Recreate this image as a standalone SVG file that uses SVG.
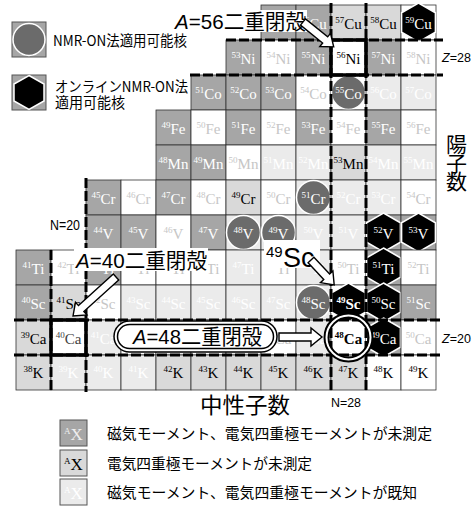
<svg xmlns="http://www.w3.org/2000/svg" xmlns:xlink="http://www.w3.org/1999/xlink" width="472" height="506" viewBox="0 0 472 506">
<style>
rect.c{stroke:#333;stroke-width:.8}
.D{fill:#a6a6a6}.L{fill:#d9d9d9}.V{fill:#ebebeb}.W{fill:#fff}
.ct{font-family:"Liberation Serif",serif;font-size:15px;text-anchor:middle}
.m{font-size:9px}
.tw{fill:#fff}.tb{fill:#000}.tl{fill:#c6c6c6}
.bold{font-weight:bold}
.magic line{stroke:#000;stroke-width:3;stroke-dasharray:10 3}
.lab{font-family:"Liberation Sans","Noto Sans CJK JP",sans-serif;font-size:21px;fill:#000}
.jp{font-family:"Noto Sans CJK JP",sans-serif;fill:#000}
.sm{font-family:"Liberation Sans",sans-serif;fill:#000}
.arr path{fill:#fff;stroke:#000;stroke-width:1.4;stroke-linejoin:miter}
</style>
<defs>
<polygon id="hex" points="0,-19.5 16.9,-9.75 16.9,9.75 0,19.5 -16.9,9.75 -16.9,-9.75" fill="#000" stroke="#fff" stroke-width="1.5"/>
<circle id="dot" r="17" fill="#6b6b6b" stroke="#fff" stroke-width="1.5"/>
</defs>
<rect width="472" height="506" fill="#fff"/>

<!-- Cu row -->
<g id="n55Cu"><rect class="c D" x="261" y="5" width="35" height="35"/><text class="ct tw" x="278.5" y="28.5"><tspan class="m" dy="-6">55</tspan><tspan dy="6">Cu</tspan></text></g>
<g id="n56Cu"><rect class="c D" x="296" y="5" width="35" height="35"/><text class="ct tw" x="313.5" y="28.5"><tspan class="m" dy="-6">56</tspan><tspan dy="6">Cu</tspan></text></g>
<g id="n57Cu"><rect class="c L" x="331" y="5" width="35" height="35"/><text class="ct tb" x="348.5" y="28.5"><tspan class="m" dy="-6">57</tspan><tspan dy="6">Cu</tspan></text></g>
<g id="n58Cu"><rect class="c L" x="366" y="5" width="35" height="35"/><text class="ct tb" x="383.5" y="28.5"><tspan class="m" dy="-6">58</tspan><tspan dy="6">Cu</tspan></text></g>
<g id="n59Cu"><rect class="c W" x="401" y="5" width="35" height="35"/><use href="#hex" x="418.5" y="22.5"/><text class="ct tw" x="418.5" y="28.5"><tspan class="m" dy="-6">59</tspan><tspan dy="6">Cu</tspan></text></g>

<!-- Ni row -->
<g id="n53Ni"><rect class="c D" x="226" y="40" width="35" height="35"/><text class="ct tw" x="243.5" y="63.5"><tspan class="m" dy="-6">53</tspan><tspan dy="6">Ni</tspan></text></g>
<g id="n54Ni"><rect class="c W" x="261" y="40" width="35" height="35"/><text class="ct tl" x="278.5" y="63.5"><tspan class="m" dy="-6">54</tspan><tspan dy="6">Ni</tspan></text></g>
<g id="n55Ni"><rect class="c D" x="296" y="40" width="35" height="35"/><text class="ct tw" x="313.5" y="63.5"><tspan class="m" dy="-6">55</tspan><tspan dy="6">Ni</tspan></text></g>
<g id="n56Ni"><rect class="c W" x="331" y="40" width="35" height="35"/><text class="ct tb" x="348.5" y="63.5"><tspan class="m" dy="-6">56</tspan><tspan dy="6">Ni</tspan></text></g>
<g id="n57Ni"><rect class="c D" x="366" y="40" width="35" height="35"/><text class="ct tw" x="383.5" y="63.5"><tspan class="m" dy="-6">57</tspan><tspan dy="6">Ni</tspan></text></g>
<g id="n58Ni"><rect class="c W" x="401" y="40" width="35" height="35"/><text class="ct tl" x="418.5" y="63.5"><tspan class="m" dy="-6">58</tspan><tspan dy="6">Ni</tspan></text></g>

<!-- Co row -->
<g id="n51Co"><rect class="c D" x="191" y="75" width="35" height="35"/><text class="ct tw" x="208.5" y="98.5"><tspan class="m" dy="-6">51</tspan><tspan dy="6">Co</tspan></text></g>
<g id="n52Co"><rect class="c D" x="226" y="75" width="35" height="35"/><text class="ct tw" x="243.5" y="98.5"><tspan class="m" dy="-6">52</tspan><tspan dy="6">Co</tspan></text></g>
<g id="n53Co"><rect class="c D" x="261" y="75" width="35" height="35"/><text class="ct tw" x="278.5" y="98.5"><tspan class="m" dy="-6">53</tspan><tspan dy="6">Co</tspan></text></g>
<g id="n54Co"><rect class="c W" x="296" y="75" width="35" height="35"/><text class="ct tl" x="313.5" y="98.5"><tspan class="m" dy="-6">54</tspan><tspan dy="6">Co</tspan></text></g>
<g id="n55Co"><rect class="c W" x="331" y="75" width="35" height="35"/><use href="#dot" x="348.5" y="92.5"/><text class="ct tw" x="348.5" y="98.5"><tspan class="m" dy="-6">55</tspan><tspan dy="6">Co</tspan></text></g>
<g id="n56Co"><rect class="c V" x="366" y="75" width="35" height="35"/><text class="ct tw" x="383.5" y="98.5"><tspan class="m" dy="-6">56</tspan><tspan dy="6">Co</tspan></text></g>
<g id="n57Co"><rect class="c V" x="401" y="75" width="35" height="35"/><text class="ct tw" x="418.5" y="98.5"><tspan class="m" dy="-6">57</tspan><tspan dy="6">Co</tspan></text></g>

<!-- Fe row -->
<g id="n49Fe"><rect class="c D" x="156" y="110" width="35" height="35"/><text class="ct tw" x="173.5" y="133.5"><tspan class="m" dy="-6">49</tspan><tspan dy="6">Fe</tspan></text></g>
<g id="n50Fe"><rect class="c W" x="191" y="110" width="35" height="35"/><text class="ct tl" x="208.5" y="133.5"><tspan class="m" dy="-6">50</tspan><tspan dy="6">Fe</tspan></text></g>
<g id="n51Fe"><rect class="c D" x="226" y="110" width="35" height="35"/><text class="ct tw" x="243.5" y="133.5"><tspan class="m" dy="-6">51</tspan><tspan dy="6">Fe</tspan></text></g>
<g id="n52Fe"><rect class="c W" x="261" y="110" width="35" height="35"/><text class="ct tl" x="278.5" y="133.5"><tspan class="m" dy="-6">52</tspan><tspan dy="6">Fe</tspan></text></g>
<g id="n53Fe"><rect class="c D" x="296" y="110" width="35" height="35"/><text class="ct tw" x="313.5" y="133.5"><tspan class="m" dy="-6">53</tspan><tspan dy="6">Fe</tspan></text></g>
<g id="n54Fe"><rect class="c W" x="331" y="110" width="35" height="35"/><text class="ct tl" x="348.5" y="133.5"><tspan class="m" dy="-6">54</tspan><tspan dy="6">Fe</tspan></text></g>
<g id="n55Fe"><rect class="c D" x="366" y="110" width="35" height="35"/><text class="ct tw" x="383.5" y="133.5"><tspan class="m" dy="-6">55</tspan><tspan dy="6">Fe</tspan></text></g>
<g id="n56Fe"><rect class="c W" x="401" y="110" width="35" height="35"/><text class="ct tl" x="418.5" y="133.5"><tspan class="m" dy="-6">56</tspan><tspan dy="6">Fe</tspan></text></g>

<!-- Mn row -->
<g id="n48Mn"><rect class="c D" x="156" y="145" width="35" height="35"/><text class="ct tw" x="173.5" y="168.5"><tspan class="m" dy="-6">48</tspan><tspan dy="6">Mn</tspan></text></g>
<g id="n49Mn"><rect class="c D" x="191" y="145" width="35" height="35"/><text class="ct tw" x="208.5" y="168.5"><tspan class="m" dy="-6">49</tspan><tspan dy="6">Mn</tspan></text></g>
<g id="n50Mn"><rect class="c W" x="226" y="145" width="35" height="35"/><text class="ct tl" x="243.5" y="168.5"><tspan class="m" dy="-6">50</tspan><tspan dy="6">Mn</tspan></text></g>
<g id="n51Mn"><rect class="c V" x="261" y="145" width="35" height="35"/><text class="ct tw" x="278.5" y="168.5"><tspan class="m" dy="-6">51</tspan><tspan dy="6">Mn</tspan></text></g>
<g id="n52Mn"><rect class="c V" x="296" y="145" width="35" height="35"/><text class="ct tw" x="313.5" y="168.5"><tspan class="m" dy="-6">52</tspan><tspan dy="6">Mn</tspan></text></g>
<g id="n53Mn"><rect class="c L" x="331" y="145" width="35" height="35"/><text class="ct tb" x="348.5" y="168.5"><tspan class="m" dy="-6">53</tspan><tspan dy="6">Mn</tspan></text></g>
<g id="n54Mn"><rect class="c V" x="366" y="145" width="35" height="35"/><text class="ct tw" x="383.5" y="168.5"><tspan class="m" dy="-6">54</tspan><tspan dy="6">Mn</tspan></text></g>
<g id="n55Mn"><rect class="c V" x="401" y="145" width="35" height="35"/><text class="ct tw" x="418.5" y="168.5"><tspan class="m" dy="-6">55</tspan><tspan dy="6">Mn</tspan></text></g>

<!-- Cr row -->
<g id="n45Cr"><rect class="c D" x="86" y="180" width="35" height="35"/><text class="ct tw" x="103.5" y="203.5"><tspan class="m" dy="-6">45</tspan><tspan dy="6">Cr</tspan></text></g>
<g id="n46Cr"><rect class="c W" x="121" y="180" width="35" height="35"/><text class="ct tl" x="138.5" y="203.5"><tspan class="m" dy="-6">46</tspan><tspan dy="6">Cr</tspan></text></g>
<g id="n47Cr"><rect class="c D" x="156" y="180" width="35" height="35"/><text class="ct tw" x="173.5" y="203.5"><tspan class="m" dy="-6">47</tspan><tspan dy="6">Cr</tspan></text></g>
<g id="n48Cr"><rect class="c W" x="191" y="180" width="35" height="35"/><text class="ct tl" x="208.5" y="203.5"><tspan class="m" dy="-6">48</tspan><tspan dy="6">Cr</tspan></text></g>
<g id="n49Cr"><rect class="c L" x="226" y="180" width="35" height="35"/><text class="ct tb" x="243.5" y="203.5"><tspan class="m" dy="-6">49</tspan><tspan dy="6">Cr</tspan></text></g>
<g id="n50Cr"><rect class="c W" x="261" y="180" width="35" height="35"/><text class="ct tl" x="278.5" y="203.5"><tspan class="m" dy="-6">50</tspan><tspan dy="6">Cr</tspan></text></g>
<g id="n51Cr"><rect class="c V" x="296" y="180" width="35" height="35"/><use href="#dot" x="313.5" y="197.5"/><text class="ct tw" x="313.5" y="203.5"><tspan class="m" dy="-6">51</tspan><tspan dy="6">Cr</tspan></text></g>
<g id="n52Cr"><rect class="c V" x="331" y="180" width="35" height="35"/><text class="ct tw" x="348.5" y="203.5"><tspan class="m" dy="-6">52</tspan><tspan dy="6">Cr</tspan></text></g>
<g id="n53Cr"><rect class="c V" x="366" y="180" width="35" height="35"/><text class="ct tw" x="383.5" y="203.5"><tspan class="m" dy="-6">53</tspan><tspan dy="6">Cr</tspan></text></g>
<g id="n54Cr"><rect class="c W" x="401" y="180" width="35" height="35"/><text class="ct tl" x="418.5" y="203.5"><tspan class="m" dy="-6">54</tspan><tspan dy="6">Cr</tspan></text></g>

<!-- V row -->
<g id="n44V"><rect class="c D" x="86" y="215" width="35" height="35"/><text class="ct tw" x="103.5" y="238.5"><tspan class="m" dy="-6">44</tspan><tspan dy="6">V</tspan></text></g>
<g id="n45V"><rect class="c D" x="121" y="215" width="35" height="35"/><text class="ct tw" x="138.5" y="238.5"><tspan class="m" dy="-6">45</tspan><tspan dy="6">V</tspan></text></g>
<g id="n46V"><rect class="c W" x="156" y="215" width="35" height="35"/><text class="ct tl" x="173.5" y="238.5"><tspan class="m" dy="-6">46</tspan><tspan dy="6">V</tspan></text></g>
<g id="n47V"><rect class="c D" x="191" y="215" width="35" height="35"/><text class="ct tw" x="208.5" y="238.5"><tspan class="m" dy="-6">47</tspan><tspan dy="6">V</tspan></text></g>
<g id="n48V"><rect class="c V" x="226" y="215" width="35" height="35"/><use href="#dot" x="243.5" y="232.5"/><text class="ct tw" x="243.5" y="238.5"><tspan class="m" dy="-6">48</tspan><tspan dy="6">V</tspan></text></g>
<g id="n49V"><rect class="c V" x="261" y="215" width="35" height="35"/><use href="#dot" x="278.5" y="232.5"/><text class="ct tw" x="278.5" y="238.5"><tspan class="m" dy="-6">49</tspan><tspan dy="6">V</tspan></text></g>
<g id="n50V"><rect class="c V" x="296" y="215" width="35" height="35"/><text class="ct tw" x="313.5" y="238.5"><tspan class="m" dy="-6">50</tspan><tspan dy="6">V</tspan></text></g>
<g id="n51V"><rect class="c V" x="331" y="215" width="35" height="35"/><text class="ct tw" x="348.5" y="238.5"><tspan class="m" dy="-6">51</tspan><tspan dy="6">V</tspan></text></g>
<g id="n52V"><rect class="c D" x="366" y="215" width="35" height="35"/><use href="#hex" x="383.5" y="232.5"/><text class="ct tw" x="383.5" y="238.5"><tspan class="m" dy="-6">52</tspan><tspan dy="6">V</tspan></text></g>
<g id="n53V"><rect class="c D" x="401" y="215" width="35" height="35"/><use href="#hex" x="418.5" y="232.5"/><text class="ct tw" x="418.5" y="238.5"><tspan class="m" dy="-6">53</tspan><tspan dy="6">V</tspan></text></g>

<!-- Ti row -->
<g id="n41Ti"><rect class="c D" x="16" y="250" width="35" height="35"/><text class="ct tw" x="33.5" y="273.5"><tspan class="m" dy="-6">41</tspan><tspan dy="6">Ti</tspan></text></g>
<g id="n42Ti"><rect class="c W" x="51" y="250" width="35" height="35"/><text class="ct tl" x="68.5" y="273.5"><tspan class="m" dy="-6">42</tspan><tspan dy="6">Ti</tspan></text></g>
<g id="n43Ti"><rect class="c D" x="86" y="250" width="35" height="35"/><text class="ct tw" x="103.5" y="273.5"><tspan class="m" dy="-6">43</tspan><tspan dy="6">Ti</tspan></text></g>
<g id="n44Ti"><rect class="c W" x="121" y="250" width="35" height="35"/><text class="ct tl" x="138.5" y="273.5"><tspan class="m" dy="-6">44</tspan><tspan dy="6">Ti</tspan></text></g>
<g id="n45Ti"><rect class="c W" x="156" y="250" width="35" height="35"/><text class="ct tl" x="173.5" y="273.5"><tspan class="m" dy="-6">45</tspan><tspan dy="6">Ti</tspan></text></g>
<g id="n46Ti"><rect class="c W" x="191" y="250" width="35" height="35"/><text class="ct tl" x="208.5" y="273.5"><tspan class="m" dy="-6">46</tspan><tspan dy="6">Ti</tspan></text></g>
<g id="n47Ti"><rect class="c V" x="226" y="250" width="35" height="35"/><text class="ct tw" x="243.5" y="273.5"><tspan class="m" dy="-6">47</tspan><tspan dy="6">Ti</tspan></text></g>
<g id="n48Ti"><rect class="c W" x="261" y="250" width="35" height="35"/><text class="ct tl" x="278.5" y="273.5"><tspan class="m" dy="-6">48</tspan><tspan dy="6">Ti</tspan></text></g>
<g id="n49Ti"><rect class="c V" x="296" y="250" width="35" height="35"/><text class="ct tw" x="313.5" y="273.5"><tspan class="m" dy="-6">49</tspan><tspan dy="6">Ti</tspan></text></g>
<g id="n50Ti"><rect class="c W" x="331" y="250" width="35" height="35"/><text class="ct tl" x="348.5" y="273.5"><tspan class="m" dy="-6">50</tspan><tspan dy="6">Ti</tspan></text></g>
<g id="n51Ti"><rect class="c D" x="366" y="250" width="35" height="35"/><use href="#hex" x="383.5" y="267.5"/><text class="ct tw" x="383.5" y="273.5"><tspan class="m" dy="-6">51</tspan><tspan dy="6">Ti</tspan></text></g>
<g id="n52Ti"><rect class="c W" x="401" y="250" width="35" height="35"/><text class="ct tl" x="418.5" y="273.5"><tspan class="m" dy="-6">52</tspan><tspan dy="6">Ti</tspan></text></g>

<!-- Sc row -->
<g id="n40Sc"><rect class="c D" x="16" y="285" width="35" height="35"/><text class="ct tw" x="33.5" y="308.5"><tspan class="m" dy="-6">40</tspan><tspan dy="6">Sc</tspan></text></g>
<g id="n41Sc"><rect class="c L" x="51" y="285" width="35" height="35"/><text class="ct tb" x="68.5" y="308.5"><tspan class="m" dy="-6">41</tspan><tspan dy="6">Sc</tspan></text></g>
<g id="n42Sc"><rect class="c W" x="86" y="285" width="35" height="35"/><text class="ct tl" x="103.5" y="308.5"><tspan class="m" dy="-6">42</tspan><tspan dy="6">Sc</tspan></text></g>
<g id="n43Sc"><rect class="c V" x="121" y="285" width="35" height="35"/><text class="ct tw" x="138.5" y="308.5"><tspan class="m" dy="-6">43</tspan><tspan dy="6">Sc</tspan></text></g>
<g id="n44Sc"><rect class="c V" x="156" y="285" width="35" height="35"/><text class="ct tw" x="173.5" y="308.5"><tspan class="m" dy="-6">44</tspan><tspan dy="6">Sc</tspan></text></g>
<g id="n45Sc"><rect class="c V" x="191" y="285" width="35" height="35"/><text class="ct tw" x="208.5" y="308.5"><tspan class="m" dy="-6">45</tspan><tspan dy="6">Sc</tspan></text></g>
<g id="n46Sc"><rect class="c V" x="226" y="285" width="35" height="35"/><text class="ct tw" x="243.5" y="308.5"><tspan class="m" dy="-6">46</tspan><tspan dy="6">Sc</tspan></text></g>
<g id="n47Sc"><rect class="c V" x="261" y="285" width="35" height="35"/><text class="ct tw" x="278.5" y="308.5"><tspan class="m" dy="-6">47</tspan><tspan dy="6">Sc</tspan></text></g>
<g id="n48Sc"><rect class="c V" x="296" y="285" width="35" height="35"/><use href="#dot" x="313.5" y="302.5"/><text class="ct tw" x="313.5" y="308.5"><tspan class="m" dy="-6">48</tspan><tspan dy="6">Sc</tspan></text></g>
<g id="n49Sc"><rect class="c W" x="331" y="285" width="35" height="35"/><use href="#hex" x="348.5" y="302.5"/><text class="ct tw bold" x="348.5" y="308.5"><tspan class="m" dy="-6">49</tspan><tspan dy="6">Sc</tspan></text></g>
<g id="n50Sc"><rect class="c D" x="366" y="285" width="35" height="35"/><use href="#hex" x="383.5" y="302.5"/><text class="ct tw" x="383.5" y="308.5"><tspan class="m" dy="-6">50</tspan><tspan dy="6">Sc</tspan></text></g>
<g id="n51Sc"><rect class="c D" x="401" y="285" width="35" height="35"/><text class="ct tw" x="418.5" y="308.5"><tspan class="m" dy="-6">51</tspan><tspan dy="6">Sc</tspan></text></g>

<!-- Ca row -->
<g id="n39Ca"><rect class="c L" x="16" y="320" width="35" height="35"/><text class="ct tb" x="33.5" y="343.5"><tspan class="m" dy="-6">39</tspan><tspan dy="6">Ca</tspan></text></g>
<g id="n40Ca"><rect class="c W" x="51" y="320" width="35" height="35"/><text class="ct" fill="#444" x="68.5" y="343.5"><tspan class="m" dy="-6">40</tspan><tspan dy="6">Ca</tspan></text></g>
<g id="n41Ca"><rect class="c V" x="86" y="320" width="35" height="35"/><text class="ct tw" x="103.5" y="343.5"><tspan class="m" dy="-6">41</tspan><tspan dy="6">Ca</tspan></text></g>
<g id="n42Ca"><rect class="c W" x="121" y="320" width="35" height="35"/><text class="ct tl" x="138.5" y="343.5"><tspan class="m" dy="-6">42</tspan><tspan dy="6">Ca</tspan></text></g>
<g id="n43Ca"><rect class="c V" x="156" y="320" width="35" height="35"/><text class="ct tw" x="173.5" y="343.5"><tspan class="m" dy="-6">43</tspan><tspan dy="6">Ca</tspan></text></g>
<g id="n44Ca"><rect class="c W" x="191" y="320" width="35" height="35"/><text class="ct tl" x="208.5" y="343.5"><tspan class="m" dy="-6">44</tspan><tspan dy="6">Ca</tspan></text></g>
<g id="n45Ca"><rect class="c V" x="226" y="320" width="35" height="35"/><text class="ct tw" x="243.5" y="343.5"><tspan class="m" dy="-6">45</tspan><tspan dy="6">Ca</tspan></text></g>
<g id="n46Ca"><rect class="c W" x="261" y="320" width="35" height="35"/><text class="ct tl" x="278.5" y="343.5"><tspan class="m" dy="-6">46</tspan><tspan dy="6">Ca</tspan></text></g>
<g id="n47Ca"><rect class="c V" x="296" y="320" width="35" height="35"/><text class="ct tw" x="313.5" y="343.5"><tspan class="m" dy="-6">47</tspan><tspan dy="6">Ca</tspan></text></g>
<g id="n48Ca"><rect class="c W" x="331" y="320" width="35" height="35"/><text class="ct tb bold" x="348.5" y="343.5"><tspan class="m" dy="-6">48</tspan><tspan dy="6">Ca</tspan></text></g>
<g id="n49Ca"><rect class="c D" x="366" y="320" width="35" height="35"/><use href="#hex" x="383.5" y="337.5"/><text class="ct tw" x="383.5" y="343.5"><tspan class="m" dy="-6">49</tspan><tspan dy="6">Ca</tspan></text></g>
<g id="n50Ca"><rect class="c W" x="401" y="320" width="35" height="35"/><text class="ct tl" x="418.5" y="343.5"><tspan class="m" dy="-6">50</tspan><tspan dy="6">Ca</tspan></text></g>

<!-- K row -->
<g id="n38K"><rect class="c L" x="16" y="355" width="35" height="35"/><text class="ct tb" x="33.5" y="378"><tspan class="m" dy="-6">38</tspan><tspan dy="6">K</tspan></text></g>
<g id="n39K"><rect class="c V" x="51" y="355" width="35" height="35"/><text class="ct tw" x="68.5" y="378"><tspan class="m" dy="-6">39</tspan><tspan dy="6">K</tspan></text></g>
<g id="n40K"><rect class="c V" x="86" y="355" width="35" height="35"/><text class="ct tw" x="103.5" y="378"><tspan class="m" dy="-6">40</tspan><tspan dy="6">K</tspan></text></g>
<g id="n41K"><rect class="c V" x="121" y="355" width="35" height="35"/><text class="ct tw" x="138.5" y="378"><tspan class="m" dy="-6">41</tspan><tspan dy="6">K</tspan></text></g>
<g id="n42K"><rect class="c L" x="156" y="355" width="35" height="35"/><text class="ct tb" x="173.5" y="378"><tspan class="m" dy="-6">42</tspan><tspan dy="6">K</tspan></text></g>
<g id="n43K"><rect class="c L" x="191" y="355" width="35" height="35"/><text class="ct tb" x="208.5" y="378"><tspan class="m" dy="-6">43</tspan><tspan dy="6">K</tspan></text></g>
<g id="n44K"><rect class="c L" x="226" y="355" width="35" height="35"/><text class="ct tb" x="243.5" y="378"><tspan class="m" dy="-6">44</tspan><tspan dy="6">K</tspan></text></g>
<g id="n45K"><rect class="c L" x="261" y="355" width="35" height="35"/><text class="ct tb" x="278.5" y="378"><tspan class="m" dy="-6">45</tspan><tspan dy="6">K</tspan></text></g>
<g id="n46K"><rect class="c L" x="296" y="355" width="35" height="35"/><text class="ct tb" x="313.5" y="378"><tspan class="m" dy="-6">46</tspan><tspan dy="6">K</tspan></text></g>
<g id="n47K"><rect class="c L" x="331" y="355" width="35" height="35"/><text class="ct tb" x="348.5" y="378"><tspan class="m" dy="-6">47</tspan><tspan dy="6">K</tspan></text></g>
<g id="n48K"><rect class="c W" x="366" y="355" width="35" height="35"/><text class="ct tb" x="383.5" y="378"><tspan class="m" dy="-6">48</tspan><tspan dy="6">K</tspan></text></g>
<g id="n49K"><rect class="c W" x="401" y="355" width="35" height="35"/><text class="ct tb" x="418.5" y="378"><tspan class="m" dy="-6">49</tspan><tspan dy="6">K</tspan></text></g>

<!-- magic number lines -->
<g id="magic" class="magic">
<line x1="51" y1="250" x2="51" y2="392"/>
<line x1="86" y1="178" x2="86" y2="392"/>
<line x1="331" y1="3" x2="331" y2="392"/>
<line x1="366" y1="3" x2="366" y2="392"/>
<line x1="226" y1="40" x2="443" y2="40"/>
<line x1="190" y1="75" x2="443" y2="75"/>
<line x1="14" y1="320" x2="443" y2="320"/>
<line x1="14" y1="355" x2="443" y2="355"/>
</g>

<!-- doubly magic highlights -->
<g id="dm56Ni"><rect x="331" y="40" width="35" height="35" fill="none" stroke="#000" stroke-width="3.5"/></g>
<g id="dm40Ca"><rect x="51" y="320" width="35" height="35" fill="none" stroke="#000" stroke-width="3.5"/></g>
<g id="dm48Ca"><circle cx="348.5" cy="337.5" r="22" fill="none" stroke="#000" stroke-width="6"/><circle cx="348.5" cy="337.5" r="22" fill="none" stroke="#fff" stroke-width="2"/></g>

<!-- axis labels -->
<g id="axis-labels">
<text class="sm" x="442" y="62" font-size="12.5"><tspan font-style="italic">Z</tspan>=28</text>
<text class="sm" x="442" y="343" font-size="12.5"><tspan font-style="italic">Z</tspan>=20</text>
<text class="sm" x="50" y="230" font-size="14" textLength="30" lengthAdjust="spacingAndGlyphs">N=20</text>
<text class="sm" x="331" y="407" font-size="13" textLength="30" lengthAdjust="spacingAndGlyphs">N=28</text>
<text class="jp" x="456.5" y="152" font-size="21" text-anchor="middle">陽</text>
<text class="jp" x="456.5" y="170.5" font-size="21" text-anchor="middle">子</text>
<text class="jp" x="456.5" y="189" font-size="21" text-anchor="middle">数</text>
<text class="jp" x="200" y="413" font-size="22" textLength="90" lengthAdjust="spacingAndGlyphs">中性子数</text>
</g>

<!-- labels -->
<g id="label-A56"><rect x="173" y="10" width="134" height="22" fill="#fff"/><text class="lab" x="175" y="29" textLength="131" lengthAdjust="spacingAndGlyphs"><tspan font-style="italic">A</tspan>=56二重閉殻</text></g>
<g id="label-A40"><rect x="74" y="248" width="134" height="23" fill="#fff"/><text class="lab" x="76" y="268" textLength="131" lengthAdjust="spacingAndGlyphs"><tspan font-style="italic">A</tspan>=40二重閉殻</text></g>
<g id="label-49Sc"><rect x="264" y="240" width="56" height="28" fill="#fff"/><text class="sm" x="266" y="257" font-size="15">49</text><text class="sm" x="283" y="267" font-size="27">Sc</text></g>
<g id="label-A48"><rect x="114" y="321" width="163" height="31" rx="15.5" fill="#fff" stroke="#000" stroke-width="1.5"/><rect x="117.5" y="324.5" width="156" height="24" rx="12" fill="none" stroke="#000" stroke-width="1.5"/><text class="lab" x="133" y="344" textLength="129" lengthAdjust="spacingAndGlyphs"><tspan font-style="italic">A</tspan>=48二重閉殻</text></g>

<!-- connectors -->
<g id="connectors" class="arr">
<path d="M0,-4 H28.5 V-8.5 L39.5,0 L28.5,8.5 V4 H0 Z" transform="translate(303,22) rotate(39)"/>
<path d="M0,-4 H47 V-8.5 L58,0 L47,8.5 V4 H0 Z" transform="translate(116,277) rotate(137.8)"/>
<path d="M0,-4 H23 V-8.5 L34,0 L23,8.5 V4 H0 Z" transform="translate(311,260) rotate(47)"/>
<path d="M0,-4 H32 V-9 L43,0 L32,9 V4 H0 Z" transform="translate(279,337)"/>
</g>

<!-- top legend -->
<g id="legend-nmr">
<rect x="12" y="22" width="34" height="35" fill="#a6a6a6" stroke="#555" stroke-width="1"/>
<circle cx="29" cy="39.5" r="16" fill="#6b6b6b" stroke="#fff" stroke-width="1.5"/>
<text class="jp" x="53" y="46" font-size="14.5" textLength="134" lengthAdjust="spacingAndGlyphs">NMR-ON法適用可能核</text>
</g>
<g id="legend-online">
<rect x="12" y="75" width="34" height="35" fill="#a6a6a6" stroke="#555" stroke-width="1"/>
<polygon points="29,75.5 44,84 44,101 29,109.5 14,101 14,84" fill="#000" stroke="#fff" stroke-width="1.5"/>
<text class="jp" x="55" y="92" font-size="14.5" textLength="133" lengthAdjust="spacingAndGlyphs">オンラインNMR-ON法</text>
<text class="jp" x="55" y="108" font-size="14.5" textLength="70" lengthAdjust="spacingAndGlyphs">適用可能核</text>
</g>

<!-- bottom legend -->
<g id="legend-1">
<rect x="60" y="420" width="27" height="26" fill="#a6a6a6" stroke="#555" stroke-width="1"/>
<text class="ct" fill="#eee" x="73.5" y="440"><tspan class="m" dy="-6">A</tspan><tspan dy="6" font-size="17">X</tspan></text>
<text class="jp" x="107" y="439" font-size="15" textLength="325" lengthAdjust="spacingAndGlyphs">磁気モーメント、電気四重極モーメントが未測定</text>
</g>
<g id="legend-2">
<rect x="60" y="450" width="27" height="26" fill="#d9d9d9" stroke="#555" stroke-width="1"/>
<text class="ct" fill="#000" x="73.5" y="470"><tspan class="m" dy="-6">A</tspan><tspan dy="6" font-size="17">X</tspan></text>
<text class="jp" x="107" y="469" font-size="15" textLength="205" lengthAdjust="spacingAndGlyphs">電気四重極モーメントが未測定</text>
</g>
<g id="legend-3">
<rect x="60" y="479" width="27" height="26" fill="#ebebeb" stroke="#555" stroke-width="1"/>
<text class="ct" fill="#fff" x="73.5" y="499"><tspan class="m" dy="-6">A</tspan><tspan dy="6" font-size="17">X</tspan></text>
<text class="jp" x="107" y="498" font-size="15" textLength="310" lengthAdjust="spacingAndGlyphs">磁気モーメント、電気四重極モーメントが既知</text>
</g>
</svg>
